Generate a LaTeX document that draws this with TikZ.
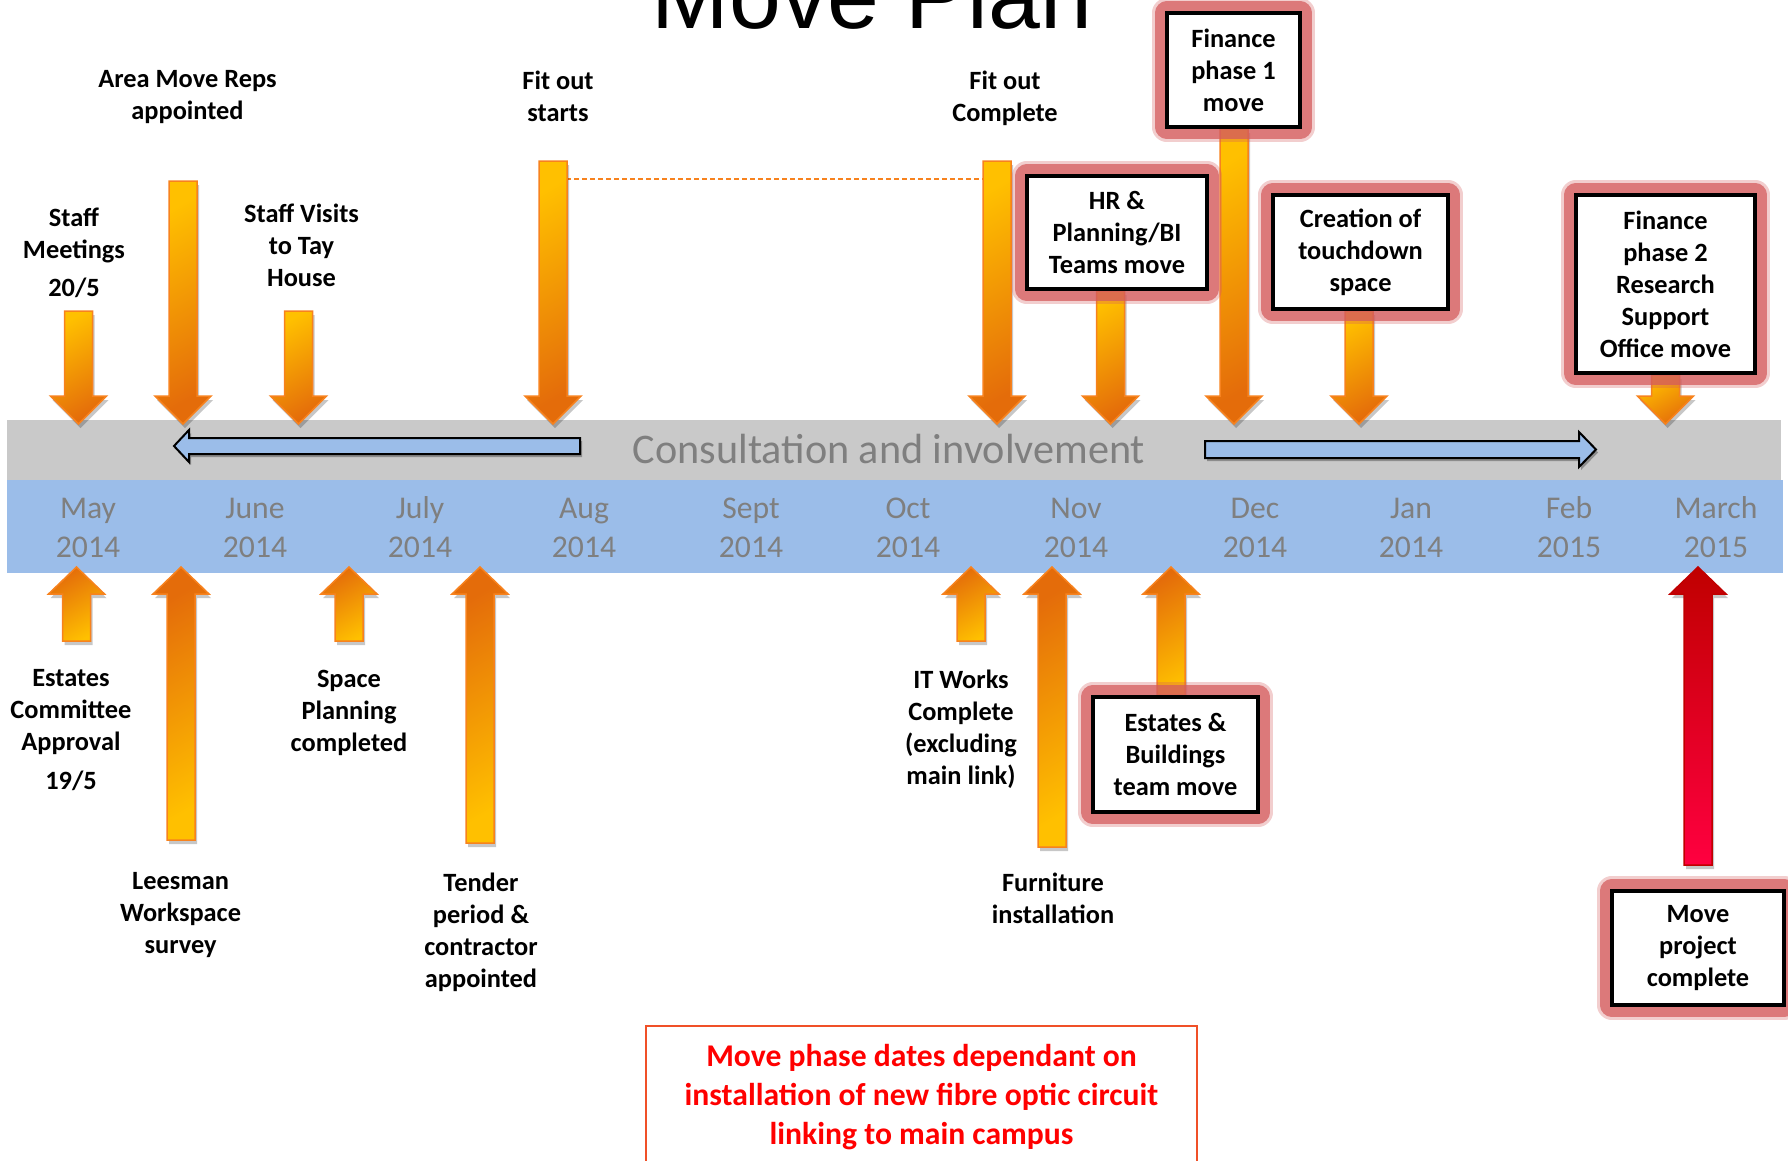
\documentclass[tikz,border=0pt]{standalone}
\usepackage{fontspec}
\setmainfont{Carlito}
\newfontfamily\titlefont{Liberation Sans}
\usetikzlibrary{shadows}

\definecolor{bandgrey}{RGB}{201,201,201}
\definecolor{bandblue}{RGB}{155,189,233}
\definecolor{monthgrey}{RGB}{127,127,127}
\definecolor{arrowyellow}{RGB}{255,192,0}
\definecolor{arroworange}{RGB}{228,108,10}
\definecolor{arrowedge}{RGB}{247,130,30}
\definecolor{glowred}{RGB}{212,92,94}
\definecolor{darkred}{RGB}{192,0,0}
\definecolor{brightred}{RGB}{255,0,64}
\definecolor{noteedge}{RGB}{240,80,40}

% block arrows: {x}{top}{tip} and [style]{x}{tip}{bottom}
\newcommand{\blkdown}[3]{%
  \path[blockarrow, downarrow]
    (#1-14,#2) -- (#1+14,#2) -- (#1+14,#3-28) -- (#1+28,#3-28) -- (#1,#3)
    -- (#1-28,#3-28) -- (#1-14,#3-28) -- cycle;}
\newcommand{\blkup}[4][uparrow]{%
  \path[blockarrow, #1]
    (#2,#3) -- (#2+28,#3+27) -- (#2+14,#3+27) -- (#2+14,#4) -- (#2-14,#4)
    -- (#2-14,#3+27) -- (#2-28,#3+27) -- cycle;}

\begin{document}
\begin{tikzpicture}[x=0.01cm, y=-0.01cm]
  % Styles
  \tikzstyle{blockarrow}=[draw=arrowedge, line width=0.015cm,
    drop shadow={shadow xshift=0.02cm, shadow yshift=-0.04cm, opacity=0.22, fill=black}]
  \tikzstyle{downarrow}=[top color=arrowyellow, bottom color=arroworange, shading angle=30]
  \tikzstyle{uparrow}=[top color=arroworange, bottom color=arrowyellow, shading angle=30]
  \tikzstyle{redarrow}=[draw=darkred, top color=darkred, bottom color=brightred]
  \tikzstyle{bluearrow}=[fill=bandblue, draw=black, line width=0.02cm,
    drop shadow={shadow xshift=0.02cm, shadow yshift=-0.03cm, opacity=0.3, fill=black}]
  \tikzstyle{evtext}=[font=\bfseries\fontsize{7.5}{9.1}\selectfont, align=center,
    inner sep=0pt, anchor=north]
  \tikzstyle{movebox}=[draw=black, line width=0.04cm, fill=white, align=center, inner sep=0pt,
    font=\bfseries\fontsize{7.5}{9.1}\selectfont,
    preaction={draw=glowred, line width=0.29cm, opacity=0.3, line join=round},
    preaction={draw=glowred, line width=0.23cm, opacity=0.75, line join=round}]
  \tikzstyle{monthtext}=[anchor=base, text=monthgrey, inner sep=0pt,
    font=\fontsize{9}{10.8}\selectfont]
  \tikzstyle{notebox}=[draw=noteedge, line width=0.015cm, fill=white, align=center,
    text=red, font=\bfseries\fontsize{9}{11}\selectfont]

  \useasboundingbox (0,0) rectangle (1788,1160);
  \clip (0,0) rectangle (1788,1160);

  % Title
  \node[font=\titlefont\fontsize{26.5}{30}\selectfont, anchor=base] (title) at (872,28) {Move Plan};

  % Bands
  \fill[bandgrey] (7,420) rectangle (1781,480);
  \fill[bandblue] (7,480) rectangle (1783,573);
  \node[anchor=base, text=monthgrey, font=\fontsize{12}{14}\selectfont] (consult) at (889,463)
    {Consultation and involvement};

  % Months
  \foreach \mname/\yr/\mx in {May/2014/88, June/2014/255, July/2014/420, Aug/2014/584,
      Sept/2014/751, Oct/2014/908, Nov/2014/1076, Dec/2014/1255, Jan/2014/1411,
      Feb/2015/1569, March/2015/1716}{
    \node[monthtext] (\mname) at (\mx,518) {\mname};
    \node[monthtext] (\mname yr) at (\mx,557) {\yr};
  }

  % Consultation arrows
  \path[bluearrow] (580,438) -- (189,438) -- (189,430) -- (174,446) -- (189,462)
    -- (189,454) -- (580,454) -- cycle;
  \path[bluearrow] (1205,441) -- (1579,441) -- (1579,432) -- (1596,449.5) -- (1579,467)
    -- (1579,458) -- (1205,458) -- cycle;

  % Fit out period
  \draw[arrowedge, line width=0.02cm, dash pattern=on 0.05cm off 0.03cm] (566,179) -- (983,179);

  % Arrows above the line
  \blkdown{78.5}{311}{424}
  \blkdown{183}{181}{424}
  \blkdown{298.5}{311}{424}
  \blkdown{553}{161}{424}
  \blkdown{997}{161}{424}
  \blkdown{1110.5}{291}{424}
  \blkdown{1234}{129}{424}
  \blkdown{1359}{311}{424}
  \blkdown{1665.5}{375}{424}

  % Arrows below the line
  \blkup{76.5}{567}{641}
  \blkup{181}{567}{840}
  \blkup{349}{567}{641}
  \blkup{480}{567}{843}
  \blkup{971}{567}{641}
  \blkup{1052}{567}{847}
  \blkup{1171}{567}{695}
  \blkup[redarrow]{1698}{567}{865}

  % Moves
  \node[movebox, minimum width=1.33cm, minimum height=1.14cm] (fin1) at (1233.5,70)
    {Finance\\phase 1\\move};
  \node[movebox, minimum width=1.80cm, minimum height=1.13cm] (hrteams) at (1117,232.5)
    {HR \&\\Planning/BI\\Teams move};
  \node[movebox, minimum width=1.75cm, minimum height=1.14cm] (touchdown) at (1360.5,252)
    {Creation of\\touchdown\\space};
  \node[movebox, minimum width=1.79cm, minimum height=1.78cm] (fin2) at (1665.5,284)
    {Finance\\phase 2\\Research\\Support\\Office move};
  \node[movebox, minimum width=1.65cm, minimum height=1.15cm] (estbuild) at (1175.5,754.5)
    {Estates \&\\Buildings\\team move};
  \node[movebox, minimum width=1.72cm, minimum height=1.14cm] (moveproj) at (1698,948)
    {Move\\project\\complete};

  % Events
  \node[evtext] (staffmeet) at (74,207) {Staff\\Meetings\\[0.06cm]20/5};
  \node[evtext] (movereps) at (187.5,70) {Area Move Reps\\appointed};
  \node[evtext] (staffvisit) at (301.5,203) {Staff Visits\\to Tay\\House};
  \node[evtext] (fitstart) at (558,70) {Fit out\\starts};
  \node[evtext] (fitdone) at (1005,70) {Fit out\\Complete};
  \node[evtext] (estcomm) at (71,669) {Estates\\Committee\\Approval\\[0.07cm]19/5};
  \node[evtext] (leesman) at (180.6,872) {Leesman\\Workspace\\survey};
  \node[evtext] (spaceplan) at (349,669) {Space\\Planning\\completed};
  \node[evtext] (tender) at (481,872) {Tender\\period \&\\contractor\\appointed};
  \node[evtext] (itworks) at (961,669) {IT Works\\Complete\\(excluding\\main link)};
  \node[evtext] (furniture) at (1053,872) {Furniture\\installation};

  % Note
  \node[notebox, minimum width=5.51cm, minimum height=1.42cm] (fibre) at (921.5,1097)
    {Move phase dates dependant on\\installation of new fibre optic circuit\\linking to main campus};
\end{tikzpicture}
\end{document}
